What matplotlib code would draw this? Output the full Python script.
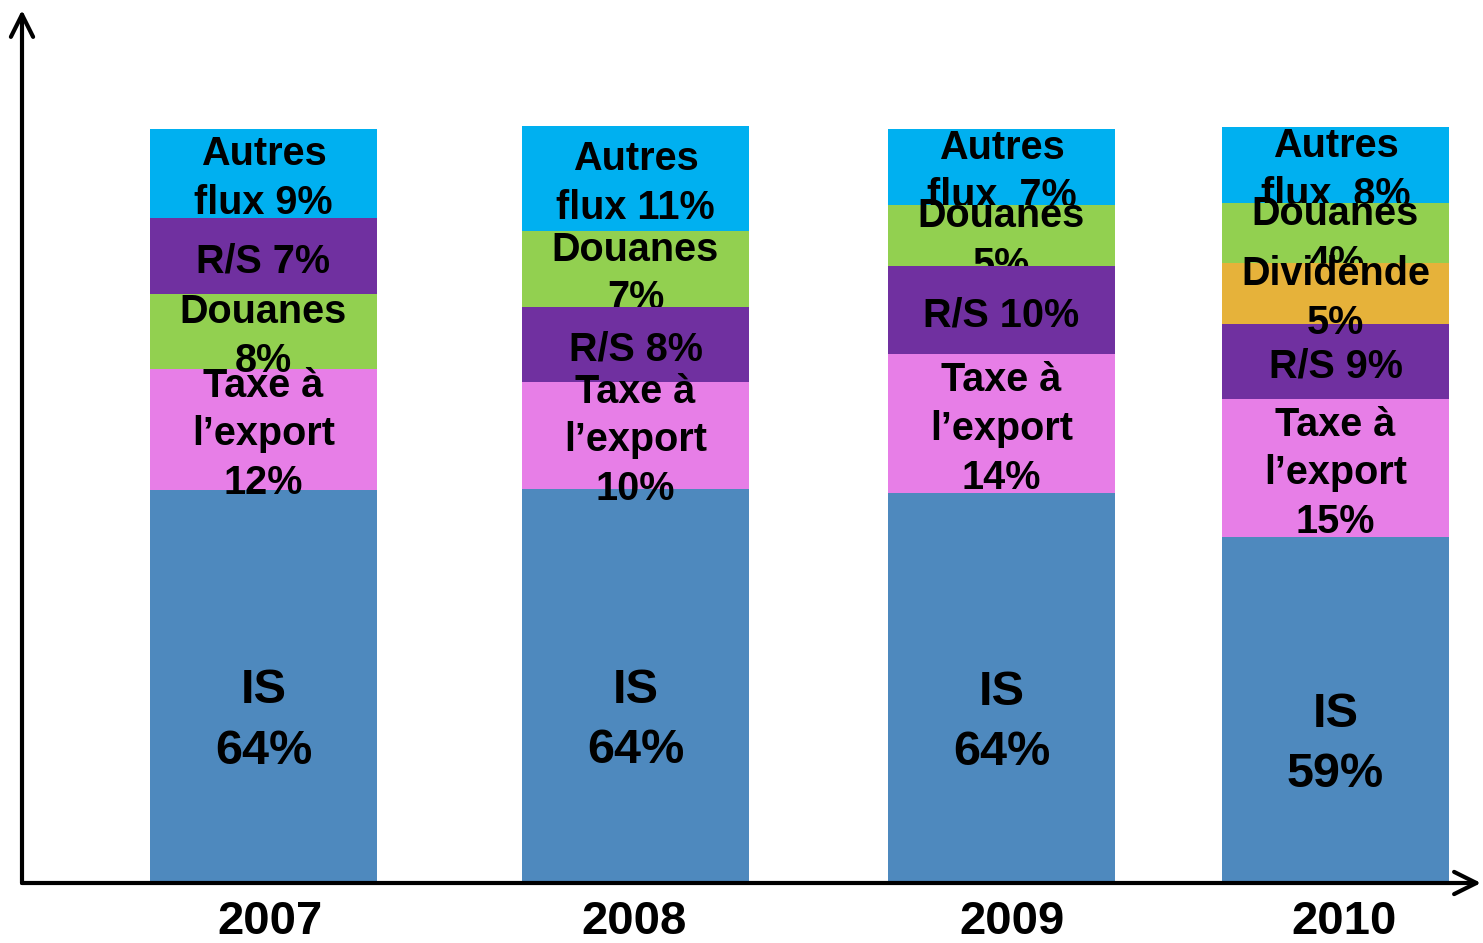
import matplotlib.pyplot as plt

# Valeurs (hauteur des segments, en % de la hauteur totale)
years = ["2007", "2008", "2009", "2010"]

is_h = [52.1, 52.2, 51.7, 45.8]
taxe_h = [16.0, 14.2, 18.3, 18.3]
douanes_h = [9.9, 10.1, 8.1, 7.9]
rs_h = [10.1, 9.9, 11.7, 9.9]
dividende_h = [0, 0, 0, 8.1]
autres_h = [11.8, 13.8, 10.1, 10.1]

is_lbl = ["IS\n64%", "IS\n64%", "IS\n64%", "IS\n59%"]
taxe_lbl = ["Taxe à\nl’export\n12%", "Taxe à\nl’export\n10%",
            "Taxe à\nl’export\n14%", "Taxe à\nl’export\n15%"]
douanes_lbl = ["Douanes\n8%", "Douanes\n7%", "Douanes\n5%", "Douanes\n4%"]
rs_lbl = ["R/S 7%", "R/S 8%", "R/S 10%", "R/S 9%"]
dividende_lbl = [None, None, None, "Dividende\n5%"]
autres_lbl = ["Autres\nflux 9%", "Autres\nflux 11%", "Autres\nflux  7%", "Autres\nflux  8%"]

# ordre d'empilement (bas -> haut) pour chaque annee
stack_order = [
    ["is", "taxe", "douanes", "rs", "autres"],
    ["is", "taxe", "rs", "douanes", "autres"],
    ["is", "taxe", "rs", "douanes", "autres"],
    ["is", "taxe", "rs", "dividende", "douanes", "autres"],
]

series = {
    "is": (is_h, is_lbl, "#4E89BE"),
    "taxe": (taxe_h, taxe_lbl, "#E77EE7"),
    "douanes": (douanes_h, douanes_lbl, "#92D050"),
    "rs": (rs_h, rs_lbl, "#7030A0"),
    "dividende": (dividende_h, dividende_lbl, "#E6B23A"),
    "autres": (autres_h, autres_lbl, "#00B0F0"),
}

# ordre de dessin (barres / etiquettes)
bar_z = {"is": 1, "taxe": 1, "autres": 2, "douanes": 4, "rs": 6, "dividende": 6}
lbl_z = {"autres": 3, "douanes": 5, "rs": 7, "dividende": 7, "taxe": 7, "is": 7}

bar_x = [263.5, 635.5, 1001.5, 1335.5]
year_x = [270, 634, 1012, 1344]
bar_w = 227

plt.rcParams['font.family'] = ['Liberation Sans', 'DejaVu Sans']

fig = plt.figure(figsize=(14.83, 9.43), dpi=100)
ax = fig.add_axes([22 / 1483, 60 / 943, 1459 / 1483, 873 / 943])
ax.set_xlim(22, 1481)
ax.set_ylim(0, 115.6)

for i, order in enumerate(stack_order):
    bottom = 0
    for key in order:
        h, lbl, color = series[key]
        ax.bar(bar_x[i], h[i], bar_w, bottom=bottom, color=color, zorder=bar_z[key])
        if key == "is":
            ax.text(bar_x[i], bottom + h[i] / 2 - 4.6, lbl[i], ha="center", va="center",
                    fontsize=35, fontweight="bold", linespacing=1.43, zorder=lbl_z[key])
        else:
            ax.text(bar_x[i], bottom + h[i] / 2 - 0.7, lbl[i], ha="center", va="center",
                    fontsize=28.5, fontweight="bold", linespacing=1.36, zorder=lbl_z[key])
        bottom += h[i]

ax.set_xticks(year_x)
ax.set_xticklabels(years, fontsize=34, fontweight="bold")
ax.tick_params(axis="x", length=0, pad=12)
ax.set_yticks([])
for s in ax.spines.values():
    s.set_visible(False)

# axes avec fleches
ax.annotate("", xy=(0, 1), xytext=(0, 0), xycoords="axes fraction",
            arrowprops=dict(arrowstyle="->", lw=3, mutation_scale=40, shrinkA=0, shrinkB=0),
            zorder=10)
ax.annotate("", xy=(1, 0), xytext=(0, 0), xycoords="axes fraction",
            arrowprops=dict(arrowstyle="->", lw=3, mutation_scale=40, shrinkA=0, shrinkB=0),
            zorder=10)

fig.savefig("out.png", dpi=100)
